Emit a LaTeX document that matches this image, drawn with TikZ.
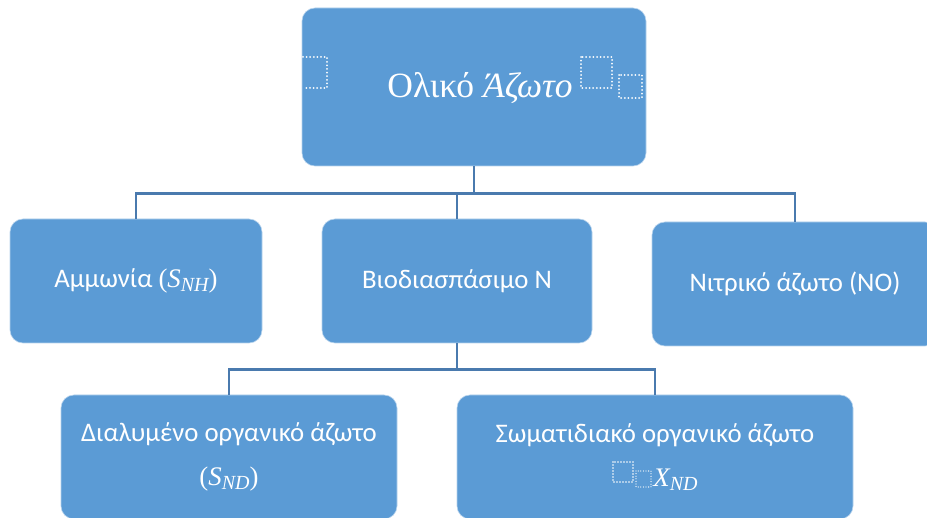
\documentclass[tikz,border=0pt]{standalone}
\usepackage{fontspec}
\setmainfont{Carlito}
\newfontfamily\cmfont{Liberation Serif}
\definecolor{boxblue}{HTML}{5B9BD5}
\definecolor{linkblue}{HTML}{4A7AAE}
\newcommand\mvar[2]{{\cmfont\itshape #1}\raisebox{-0.3ex}{\cmfont\itshape\fontsize{20}{20}\selectfont #2}}
\begin{document}
\begin{tikzpicture}[x=1pt,y=-1pt,
  box/.style={rectangle, rounded corners=13pt, fill=boxblue, draw=white!55!boxblue, line width=0.6pt,
    text=white, font=\fontsize{26.8}{44}\selectfont, align=center, inner sep=0pt},
  conn/.style={draw=linkblue, line width=2.8pt},
  ph/.style={draw=white, line width=2pt, line cap=round, dash pattern=on 0pt off 3.6pt}]
\useasboundingbox (0,0) rectangle (927,518);
\clip (0,0) rectangle (927,518);
% boxes
\node[box, minimum width=344pt, minimum height=158pt] (top) at (474,87) {};
\node[text=white, font=\cmfont\fontsize{35.5}{35.5}\selectfont, anchor=base] (toptxt) at (480,98) {Ολικό \textit{Άζωτο}};
\node[box, minimum width=252pt, minimum height=124pt] (amm) at (136,281) {Αμμωνία {\cmfont(}\mvar{S}{NH}{\cmfont)}};
\node[box, minimum width=270pt, minimum height=124pt] (bio) at (457,281) {Βιοδιασπάσιμο Ν};
\node[box, minimum width=286pt, minimum height=124pt] (nit) at (795,284) {Νιτρικό άζωτο (NO)};
\node[box, minimum width=336pt, minimum height=124pt] (dia) at (229,457) {Διαλυμένο οργανικό άζωτο\\{\cmfont(}\mvar{S}{ND}{\cmfont)}};
\node[box, minimum width=396pt, minimum height=124pt] (som) at (655,457) {Σωματιδιακό οργανικό άζωτο\\\hspace*{41pt}\mvar{X}{ND}};
% placeholders
\draw[ph] (303,57) -- (327,57) -- (327,88) -- (303,88);
\draw[ph] (581,57) rectangle (612,88);
\draw[ph] (619,75) rectangle (642,98);
\draw[ph, line width=1.6pt, dash pattern=on 0pt off 3pt] (613,462) rectangle (633,482);
\draw[ph, line width=1.3pt, dash pattern=on 0pt off 2.6pt] (636,471) rectangle (651,487);
% connectors
\draw[conn] (top.south) -- ++(0,27) coordinate (j1);
\draw[conn] (j1) -| (amm.north);
\draw[conn] (j1) -| (bio.north);
\draw[conn] (j1) -| (nit.north);
\draw[conn] (bio.south) -- ++(0,26) coordinate (j2);
\draw[conn] (j2) -| (dia.north);
\draw[conn] (j2) -| (som.north);
\end{tikzpicture}
\end{document}
